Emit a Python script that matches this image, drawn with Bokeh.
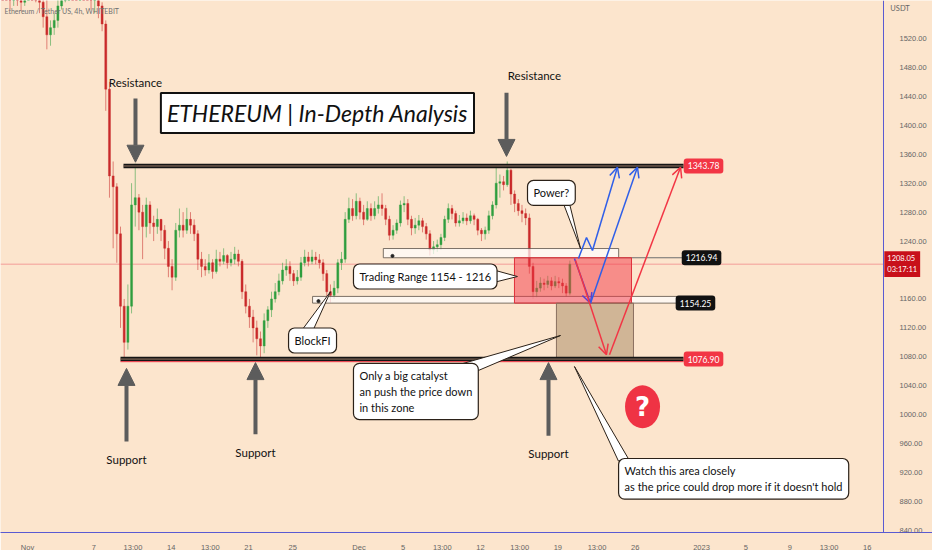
import pandas as pd
from bokeh.plotting import figure
from bokeh.models import (Range1d, FixedTicker, NumeralTickFormatter, Label, Arrow,
                          NormalHead, OpenHead, Span, ColumnDataSource)
from bokeh.embed import file_html
from bokeh.resources import INLINE

# ---------------- data (ETH/USDT, 8h candles) ----------------
first_open = 1610.0
close = [
    1600,
    1590, 1575, 1585,  1578, 1570, 1590,                      # Oct 30-31
    1600, 1590, 1580,  1570, 1550, 1525,  1535, 1545, 1565,   # Nov 1-3
    1575, 1630, 1645,  1640, 1630, 1635,  1620, 1600, 1575,   # Nov 4-6
    1580, 1565, 1540,  1450, 1330, 1315,  1250, 1150, 1100,   # Nov 7-9
    1150, 1290, 1300,  1280, 1260, 1290,  1265, 1260, 1270,   # Nov 10-12
    1255, 1230, 1205,  1190, 1255, 1262,  1255, 1270, 1262,   # Nov 13-15
    1250, 1215, 1205,  1200, 1210, 1198,  1215, 1212, 1220,   # Nov 16-18
    1210, 1215, 1222,  1212, 1170, 1150,  1135, 1120, 1105,   # Nov 19-21
    1095, 1130, 1145,  1160, 1170, 1185,  1200, 1205, 1195,   # Nov 22-24
    1185, 1190, 1210,  1218, 1212, 1218,  1214, 1210, 1195,   # Nov 25-27
    1170, 1165, 1175,  1210, 1215, 1270,  1285, 1275, 1295,   # Nov 28-30
    1280, 1270, 1285,  1275, 1285, 1290,  1285, 1270, 1248,   # Dec 1-3
    1255, 1265, 1290,  1292, 1270, 1258,  1262, 1268, 1260,   # Dec 4-6
    1250, 1228, 1232,  1235, 1245, 1270,  1285, 1278, 1265,   # Dec 7-9
    1268, 1272, 1268,  1275, 1270, 1255,  1250, 1255, 1275,   # Dec 10-12
    1290, 1320, 1322,  1318, 1338, 1305,  1292, 1282, 1278,   # Dec 13-15
    1272, 1205, 1170,  1175, 1182, 1180,  1185, 1178, 1184,   # Dec 16-18
    1182, 1178, 1168,  1208.05,                               # Dec 19-20
]
high = [
    1615,
    1610, 1598, 1595,  1592, 1585, 1600,
    1610, 1605, 1595,  1585, 1575, 1580,  1545, 1555, 1575,
    1590, 1640, 1660,  1655, 1648, 1650,  1640, 1625, 1605,
    1590, 1585, 1570,  1545, 1460, 1350,  1320, 1260, 1160,
    1180, 1320, 1347,  1305, 1290, 1300,  1295, 1275, 1285,
    1270, 1262, 1240,  1215, 1265, 1285,  1280, 1286, 1280,
    1270, 1255, 1225,  1215, 1222, 1215,  1228, 1225, 1230,
    1222, 1225, 1232,  1228, 1215, 1180,  1160, 1145, 1130,
    1115, 1140, 1150,  1170, 1182, 1195,  1210, 1215, 1212,
    1200, 1200, 1218,  1228, 1225, 1228,  1225, 1222, 1215,
    1200, 1180, 1185,  1215, 1225, 1280,  1300, 1298, 1306,
    1300, 1290, 1295,  1292, 1295, 1302,  1306, 1290, 1275,
    1262, 1270, 1296,  1302, 1298, 1275,  1272, 1276, 1272,
    1265, 1255, 1240,  1242, 1250, 1275,  1292, 1290, 1282,
    1276, 1280, 1278,  1282, 1278, 1272,  1258, 1260, 1282,
    1295, 1342, 1332,  1330, 1350, 1340,  1310, 1298, 1290,
    1285, 1278, 1210,  1185, 1190, 1188,  1192, 1190, 1192,
    1190, 1188, 1182,  1213,
]
low = [
    1585,
    1575, 1560, 1565,  1565, 1558, 1565,
    1585, 1578, 1570,  1555, 1535, 1505,  1510, 1525, 1535,
    1560, 1570, 1620,  1625, 1620, 1620,  1605, 1585, 1560,
    1555, 1548, 1530,  1420, 1300, 1230,  1210, 1120, 1077,
    1090, 1140, 1260,  1255, 1215, 1245,  1250, 1240, 1250,
    1240, 1215, 1190,  1172, 1185, 1245,  1245, 1250, 1250,
    1240, 1200, 1190,  1192, 1195, 1188,  1195, 1205, 1208,
    1202, 1205, 1208,  1205, 1160, 1140,  1120, 1100, 1082,
    1077, 1085, 1120,  1135, 1155, 1165,  1180, 1192, 1185,
    1178, 1180, 1185,  1205, 1205, 1208,  1208, 1202, 1185,
    1160, 1155, 1160,  1168, 1200, 1210,  1265, 1268, 1270,
    1270, 1262, 1268,  1268, 1270, 1278,  1275, 1262, 1241,
    1242, 1250, 1260,  1280, 1262, 1248,  1250, 1255, 1252,
    1242, 1220, 1222,  1225, 1228, 1240,  1265, 1270, 1260,
    1260, 1264, 1262,  1264, 1262, 1248,  1240, 1242, 1250,
    1270, 1285, 1300,  1310, 1315, 1290,  1280, 1275, 1266,
    1262, 1195, 1160,  1162, 1170, 1172,  1175, 1172, 1175,
    1175, 1168, 1163,  1165,
]

y_ticks = [1520, 1480, 1440, 1400, 1360, 1320, 1280, 1240, 1160, 1120, 1080,
           1040, 1000, 960, 920, 880, 840]
x_tick_dates = ["2022-11-01", "2022-11-07", "2022-11-10 13:00", "2022-11-14",
                "2022-11-17 13:00", "2022-11-21", "2022-11-25", "2022-12-01",
                "2022-12-05", "2022-12-08 13:00", "2022-12-12", "2022-12-15 13:00",
                "2022-12-19", "2022-12-22 13:00", "2022-12-26", "2023-01-01",
                "2023-01-05", "2023-01-09", "2023-01-12 13:00", "2023-01-16"]
x_tick_labels = ["Nov", "7", "13:00", "14", "13:00", "21", "25", "Dec", "5", "13:00",
                 "12", "13:00", "19", "13:00", "26", "2023", "5", "9", "13:00", "16"]

level_top = 1343.78
level_mid_hi = 1216.94
level_mid_lo = 1154.25
level_bottom = 1076.90
last_price = 1208.05

# ---------------- helpers ----------------
def ms(s):
    return pd.Timestamp(s).value / 1e6

BG = "#fce5cd"
GREEN = "#2f9e3f"
RED = "#c92a2a"
FONT = "Lato"
INK = "#2b2118"
AXIS_BLUE = "#5a5ad2"

opens = [first_open] + close[:-1]
times = pd.date_range("2022-10-29 16:00", periods=len(close), freq="8h") + pd.Timedelta(hours=2)
cols = [GREEN if c >= o else RED for o, c in zip(opens, close)]
src = ColumnDataSource(dict(
    t=[ms(t) for t in times], h=high, l=low,
    top=[max(o, c) for o, c in zip(opens, close)],
    bot=[min(o, c) for o, c in zip(opens, close)],
    col=cols))

# the frame spans the full width; the price scale sits at a fixed time position on the right
p = figure(frame_width=932, frame_height=532, x_axis_type="datetime",
           y_axis_location="right",
           x_range=Range1d(ms("2022-10-29 13:20"), ms("2023-01-21 21:40")),
           y_range=Range1d(837.2, 1572.5),
           output_backend="svg", toolbar_location=None,
           min_border_left=0, min_border_top=0, min_border_right=0, min_border_bottom=16,
           background_fill_color=BG, border_fill_color=BG, outline_line_color=None)
p.xgrid.visible = False
p.ygrid.visible = False

xt = [ms(d) for d in x_tick_dates]
p.xaxis.ticker = FixedTicker(ticks=xt)
p.xaxis.major_label_overrides = {k: v for k, v in zip(xt, x_tick_labels)}
p.xaxis.major_tick_line_color = None
p.xaxis.minor_tick_line_color = None
p.xaxis.axis_line_color = AXIS_BLUE
p.xaxis.major_label_text_font_size = "7.5px"
p.xaxis.major_label_text_color = "#666666"
p.xaxis.major_label_standoff = 4

p.yaxis.fixed_location = ms("2023-01-17 11:15")
p.yaxis.ticker = FixedTicker(ticks=y_ticks)
p.yaxis.formatter = NumeralTickFormatter(format="0.00")
p.yaxis.major_tick_line_color = None
p.yaxis.minor_tick_line_color = None
p.yaxis.axis_line_color = AXIS_BLUE
p.yaxis.major_label_text_font_size = "7.5px"
p.yaxis.major_label_text_color = "#666666"
p.yaxis.major_label_standoff = 10

# current price line
p.segment(x0=ms("2022-10-29 13:20"), y0=last_price, x1=ms("2023-01-17 11:15"), y1=last_price,
          line_color="#f08a8a", line_width=0.8)

# candles
p.segment(x0="t", y0="l", x1="t", y1="h", line_color="col", line_alpha=0.55,
          line_width=1, source=src)
p.vbar(x="t", width=8 * 3600e3 * 0.55, top="top", bottom="bot", fill_color="col",
       line_color="col", line_width=0.4, source=src)

# zones
p.quad(left=ms("2022-12-03 04:50"), right=ms("2022-12-24 12:00"), bottom=level_mid_hi,
       top=1229.7, fill_color="white", fill_alpha=0.7, line_color="#5a5048", line_width=0.8)
p.segment(x0=ms("2022-12-24 12:00"), y0=level_mid_hi, x1=ms("2022-12-30 09:00"),
          y1=level_mid_hi, line_color="#6e6e6e", line_width=1)
p.quad(left=ms("2022-11-26 19:10"), right=ms("2022-12-29 19:10"), bottom=level_mid_lo,
       top=1163.5, fill_color="white", fill_alpha=0.7, line_color="#5a5048", line_width=0.8)
p.scatter([ms("2022-12-04 00:45"), ms("2022-11-27 08:00")], [1219.5, 1157.0], size=3,
          color="#222222")
p.quad(left=ms("2022-12-15 01:40"), right=ms("2022-12-25 15:50"), bottom=level_mid_lo,
       top=level_mid_hi, fill_color="#f23645", fill_alpha=0.5, line_color="#e0303a",
       line_width=1)
p.quad(left=ms("2022-12-18 20:50"), right=ms("2022-12-25 20:10"), bottom=level_bottom,
       top=level_mid_lo, fill_color="#9c7a55", fill_alpha=0.45, line_color="#8a7060",
       line_width=1)

# key levels (double lines)
for lvl, x0 in ((level_top, "2022-11-09 16:30"), (level_bottom, "2022-11-09 10:00")):
    p.segment(x0=ms(x0), y0=lvl, x1=ms("2022-12-30 09:00"), y1=lvl,
              line_color="#151515", line_width=4.5)
    p.segment(x0=ms(x0), y0=lvl, x1=ms("2022-12-30 09:00"), y1=lvl,
              line_color="#9a7a66", line_width=1)
p.segment(x0=ms("2022-11-09 10:00"), y0=level_bottom - 3.6, x1=ms("2022-12-30 09:00"),
          y1=level_bottom - 3.6, line_color="#f23645", line_width=1)

# scenario arrows
BLUE = "#2f5fe8"
PURPLE = "#5a3fd0"
ARED = "#f23645"
p.line([ms("2022-12-20 20:40"), ms("2022-12-21 14:10"), ms("2022-12-22 03:10")],
       [1216, 1245, 1227], line_color=BLUE, line_width=1.5)
arrows = [
    ("2022-12-22 03:10", 1227, "2022-12-24 09:20", 1342, BLUE),
    ("2022-12-20 12:00", 1216, "2022-12-21 22:50", 1154, PURPLE),
    ("2022-12-21 22:50", 1154, "2022-12-26 04:50", 1342, BLUE),
    ("2022-12-20 14:25", 1213, "2022-12-23 09:35", 1083, ARED),
    ("2022-12-23 16:05", 1083, "2022-12-30 02:25", 1342, ARED),
]
for xs, ys, xe, ye, c in arrows:
    p.add_layout(Arrow(end=OpenHead(size=10, line_color=c, line_width=1.5),
                       x_start=ms(xs), y_start=ys, x_end=ms(xe), y_end=ye,
                       line_color=c, line_width=1.5))

# big gray arrows
GRAY = "#5c5c5c"
gray_arrows = [
    ("2022-11-10 18:30", 1437, 1349),
    ("2022-12-14 08:24", 1445, 1357),
    ("2022-11-09 23:00", 963, 1064),
    ("2022-11-21 15:10", 973, 1072),
    ("2022-12-18 03:36", 971, 1072),
]
for xd, y0, y1 in gray_arrows:
    p.add_layout(Arrow(end=NormalHead(size=17, fill_color=GRAY, line_color=GRAY),
                       x_start=ms(xd), y_start=y0, x_end=ms(xd), y_end=y1,
                       line_color=GRAY, line_width=4))

# callout tails
tails = [
    (["2022-12-19 12:00", "2022-12-20 01:10", "2022-12-21 01:10"], [1292, 1292, 1229.7]),
    (["2022-12-12 17:15", "2022-12-12 17:15", "2022-12-15 08:10"], [1202, 1181, 1191]),
    (["2022-11-25 21:20", "2022-11-26 21:10", "2022-11-28 10:05"], [1118, 1118, 1170]),
    (["2022-12-10 00:00", "2022-12-11 15:10", "2022-12-19 05:45"], [1069, 1060, 1109.5]),
    (["2022-12-24 11:30", "2022-12-25 09:20", "2022-12-20 12:00"], [936, 939, 1066.6]),
]
for xs, ys in tails:
    p.patch([ms(x) for x in xs], ys, fill_color="white", line_color=INK, line_width=1)

def callout(x, y, text, baseline="middle"):
    p.add_layout(Label(x=ms(x), y=y, text=text, text_font=FONT, text_font_size="11px",
                       text_color="#111111", text_align="left", text_baseline=baseline,
                       background_fill_color="white", border_line_color=INK,
                       border_line_width=1.2, border_radius=6, padding=6,
                       text_line_height=1.2))

callout("2022-12-16 06:00", 1306.5, "Power?")
callout("2022-11-30 12:00", 1191, "Trading Range 1154 - 1216")
callout("2022-11-24 15:00", 1102.6, "BlockFI")
callout("2022-11-30 12:00", 1071, "Only a big catalyst\nan push the price down\n in this zone", "top")
callout("2022-12-24 11:50", 939.5, "Watch this area closely\nas the price could drop more if it doesn't hold", "top")

# title
p.add_layout(Label(x=ms("2022-11-27 05:45"), y=1417, text="ETHEREUM | In-Depth Analysis",
                   text_font=FONT, text_font_style="italic", text_font_size="23px",
                   text_color="#111111", text_align="center", text_baseline="middle",
                   background_fill_color="white", border_line_color="#111111",
                   border_line_width=2, padding=6))

# plain texts
for x, y, t in [("2022-11-10 18:30", 1458.5, "Resistance"), ("2022-12-16 21:00", 1469, "Resistance"),
                ("2022-11-09 23:00", 938, "Support"), ("2022-11-21 15:10", 948, "Support"),
                ("2022-12-18 03:36", 946, "Support")]:
    p.add_layout(Label(x=ms(x), y=y, text=t, text_font=FONT, text_font_size="11.5px",
                       text_color="#111111", text_align="center", text_baseline="middle"))

# question mark
p.ellipse(x=ms("2022-12-26 15:50"), y=1011, width=35, height=43, width_units="screen",
          height_units="screen", fill_color="#ef3344", line_color=None)
p.add_layout(Label(x=ms("2022-12-26 15:50"), y=1011, text="?", text_font="DejaVu Sans",
                   text_font_style="bold", text_font_size="26px", text_color="white",
                   text_align="center", text_baseline="middle"))

# price tags
for x, y, t, c in [("2023-01-01 04:20", level_top, "1343.78", "#f23645"),
                   ("2023-01-01 00:00", level_mid_hi, "1216.94", "#111111"),
                   ("2022-12-31 10:50", level_mid_lo, "1154.25", "#111111"),
                   ("2023-01-01 04:20", level_bottom, "1076.90", "#f23645")]:
    p.add_layout(Label(x=ms(x), y=y, text=t, text_font=FONT, text_font_size="8.5px",
                       text_color="white", text_align="center", text_baseline="middle",
                       background_fill_color=c, border_radius=3, padding=4))

# header
p.add_layout(Label(x=ms("2022-10-29 22:00"), y=1558.5, text="Ethereum / Tether US, 4h, WHITEBIT",
                   text_font=FONT, text_font_size="7px", text_color="#707070",
                   text_align="left", text_baseline="middle"))

# price-scale extras
p.add_layout(Label(x=ms("2023-01-18 02:00"), y=1561.5, text="USDT",
                   text_font=FONT, text_font_size="7.5px", text_color="#666666",
                   text_align="left", text_baseline="middle"))
p.add_layout(Label(x=ms("2023-01-17 13:00"), y=last_price, text="1208.05\n03:17:11",
                   text_font=FONT, text_font_size="7.5px", text_color="white",
                   text_align="left", text_baseline="middle",
                   background_fill_color="#c8101a", padding=3))

open("out.html", "w").write(file_html(p, INLINE))
